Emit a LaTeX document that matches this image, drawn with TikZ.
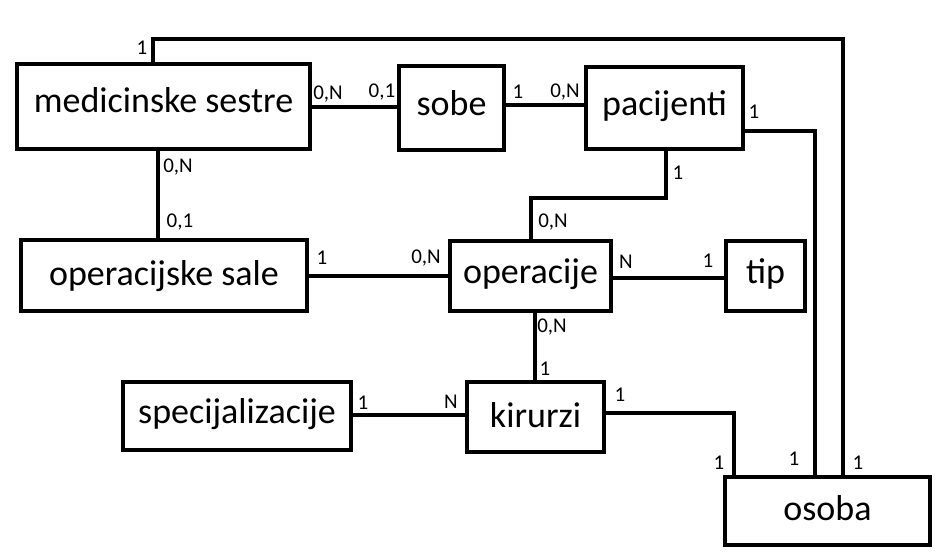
\documentclass[tikz,border=0pt]{standalone}
\usepackage{fontspec}
\setmainfont{Carlito}
\begin{document}
\begin{tikzpicture}[x=1pt,y=-1pt,
  ent/.style={draw, line width=4pt, inner sep=0pt, text height=24pt, text depth=10pt, font=\fontsize{36}{40}\selectfont},
  conn/.style={line width=4pt},
  card/.style={inner sep=0pt, font=\fontsize{21}{24}\selectfont}]
\useasboundingbox (0,0) rectangle (949,559);
\node[ent, text depth=11pt, minimum width=293pt, minimum height=85pt] (med) at (163.5,106.5) {medicinske sestre};
\node[ent, minimum width=105pt, minimum height=84pt] (sobe) at (451.5,108) {sobe};
\node[ent, minimum width=157pt, minimum height=82pt] (pac) at (664.5,108) {pacijenti};
\node[ent, text depth=5pt, minimum width=286pt, minimum height=71pt] (sale) at (164,275.5) {operacijske sale};
\node[ent, minimum width=161pt, minimum height=70pt] (oper) at (530.5,276) {operacije};
\node[ent, minimum width=79pt, minimum height=70pt] (tip) at (765.5,276) {tip};
\node[ent, minimum width=228pt, minimum height=68pt] (spec) at (237,416) {specijalizacije};
\node[ent, text depth=3pt, minimum width=137pt, minimum height=70pt] (kir) at (535.5,417) {kirurzi};
\node[ent, text depth=6pt, minimum width=205pt, minimum height=68pt] (osoba) at (827.5,511) {osoba};

% connectors
\draw[conn] (153,0 |- med.north) -- (153,39) -- (843,39) -- (843,0 |- osoba.north);
\draw[conn] (med.east |- 0,107) -- (sobe.west |- 0,107);
\draw[conn] (sobe.east |- 0,105) -- (pac.west |- 0,105);
\draw[conn] (pac.east |- 0,131) -- (815,131) -- (815,0 |- osoba.north);
\draw[conn] (666,0 |- pac.south) -- (666,198) -- (531,198) -- (531,0 |- oper.north);
\draw[conn] (158,0 |- med.south) -- (158,0 |- sale.north);
\draw[conn] (sale.east |- 0,276) -- (oper.west |- 0,276);
\draw[conn] (oper.east |- 0,278) -- (tip.west |- 0,278);
\draw[conn] (535,0 |- oper.south) -- (535,0 |- kir.north);
\draw[conn] (spec.east |- 0,415) -- (kir.west |- 0,415);
\draw[conn] (kir.east |- 0,413) -- (734,413) -- (734,0 |- osoba.north);

% cardinalities
\node[card] (c1) at (142,48) {1};
\node[card] (c2) at (328,94) {0,N};
\node[card] (c3) at (382,92) {0,1};
\node[card] (c4) at (518,92) {1};
\node[card] (c5) at (565,92) {0,N};
\node[card] (c6) at (754,112) {1};
\node[card] (c7) at (178,167) {0,N};
\node[card] (c8) at (180,222) {0,1};
\node[card] (c9) at (322,258) {1};
\node[card] (c10) at (426,258) {0,N};
\node[card] (c11) at (678,173) {1};
\node[card] (c12) at (553,222) {0,N};
\node[card] (c13) at (626,262) {N};
\node[card] (c14) at (708,261) {1};
\node[card] (c15) at (552,327) {0,N};
\node[card] (c16) at (545,369) {1};
\node[card] (c17) at (363,403) {1};
\node[card] (c18) at (451,402) {N};
\node[card] (c19) at (620,395) {1};
\node[card] (c20) at (719,463) {1};
\node[card] (c21) at (794,459) {1};
\node[card] (c22) at (858,463) {1};
\end{tikzpicture}
\end{document}
